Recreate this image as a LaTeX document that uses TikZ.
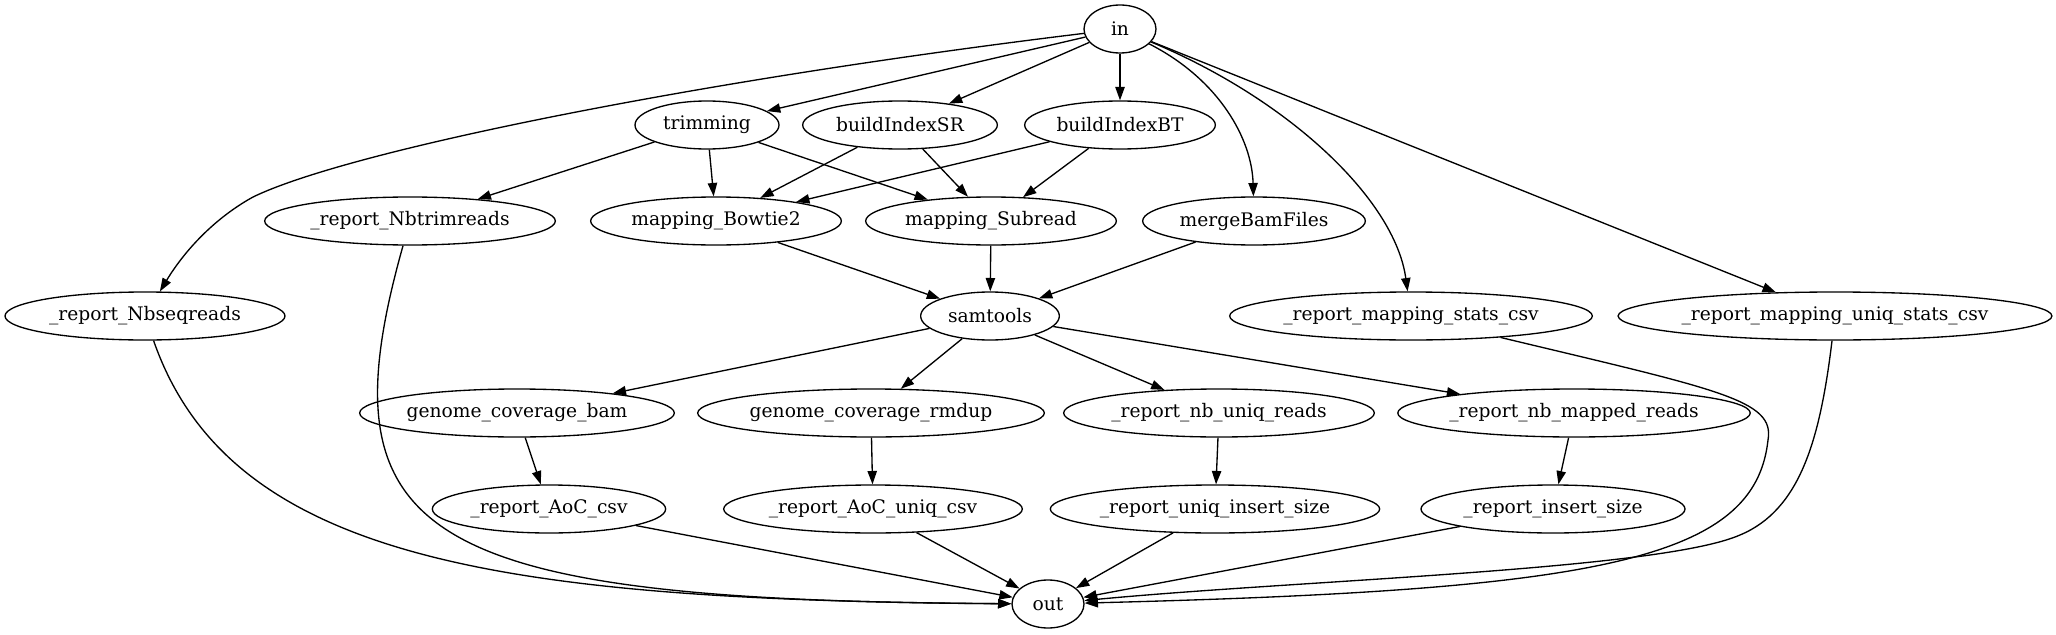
\documentclass[tikz,border=0pt]{standalone}
\usepackage{fontspec}
\setmainfont{DejaVu Serif}
\usepackage{tikz}
\usetikzlibrary{arrows.meta,shapes.geometric}
\tikzset{
	task/.style={draw, ellipse, line width=1pt, inner sep=0pt, minimum height=36pt, minimum width=#1, font=\fontsize{14}{16}\selectfont},
	dep/.style={line width=1pt, -{Triangle[length=10pt, width=7pt]}}
}

\begin{document}
\begin{tikzpicture}[x=0.75pt, y=-0.75pt]
			%%%%% START %%%%%
			\useasboundingbox (0, 0) rectangle (2056, 635);
			
			\node[task=54pt] (input) at (1120, 29) {in};
			
			\node[task=108pt] (trimming) at (707, 125) {trimming};
			\node[task=146pt] (idxSR) at (900, 125) {buildIndexSR};
			\node[task=143pt] (idxBT) at (1120, 125) {buildIndexBT};
			
			\node[task=218pt] (nbtrim) at (410, 221) {\_report\_Nbtrimreads};
			\node[task=188pt] (bowtie) at (716, 221) {mapping\_Bowtie2};
			\node[task=188pt] (subread) at (991, 221) {mapping\_Subread};
			\node[task=167pt] (merge) at (1254, 221) {mergeBamFiles};
			
			\node[task=210pt] (nbseq) at (145, 316) {\_report\_Nbseqreads};
			\node[task=104pt] (samtools) at (990, 316) {samtools};
			\node[task=272pt] (mapstats) at (1411, 316) {\_report\_mapping\_stats\_csv};
			\node[task=323pt] (mapuniq) at (1835, 316) {\_report\_mapping\_uniq\_stats\_csv};
			
			\node[task=236pt] (covbam) at (517, 413) {genome\_coverage\_bam};
			\node[task=260pt] (covrmdup) at (871, 413) {genome\_coverage\_rmdup};
			\node[task=233pt] (nbuniq) at (1219, 413) {\_report\_nb\_uniq\_reads};
			\node[task=263pt] (nbmapped) at (1574, 413) {\_report\_nb\_mapped\_reads};
			
			\node[task=175pt] (aoc) at (549, 509) {\_report\_AoC\_csv};
			\node[task=224pt] (aocuniq) at (873, 509) {\_report\_AoC\_uniq\_csv};
			\node[task=247pt] (uniqins) at (1215, 509) {\_report\_uniq\_insert\_size};
			\node[task=198pt] (ins) at (1553, 509) {\_report\_insert\_size};
			
			\node[task=54pt] (output) at (1048, 604) {out};
			
			% from in
			\draw[dep] (input) .. controls (700, 80) and (350, 150) .. (253, 197) .. controls (215, 218) and (185, 250) .. (nbseq);
			\draw[dep] (input) -- (trimming);
			\draw[dep] (input) -- (idxSR);
			\draw[dep] (input) -- (idxBT);
			\draw[dep] (input) .. controls (1220, 80) and (1252, 140) .. (merge);
			\draw[dep] (input) .. controls (1290, 100) and (1395, 200) .. (mapstats);
			\draw[dep] (input) -- (mapuniq);
			
			% mapping
			\draw[dep] (trimming) -- (nbtrim);
			\draw[dep] (trimming) -- (bowtie);
			\draw[dep] (trimming) -- (subread);
			\draw[dep] (idxSR) -- (bowtie);
			\draw[dep] (idxSR) -- (subread);
			\draw[dep] (idxBT) -- (bowtie);
			\draw[dep] (idxBT) -- (subread);
			
			\draw[dep] (bowtie) -- (samtools);
			\draw[dep] (subread) -- (samtools);
			\draw[dep] (merge) -- (samtools);
			
			% samtools and reports
			\draw[dep] (samtools) -- (covbam);
			\draw[dep] (samtools) -- (covrmdup);
			\draw[dep] (samtools) -- (nbuniq);
			\draw[dep] (samtools) -- (nbmapped);
			
			\draw[dep] (covbam) -- (aoc);
			\draw[dep] (covrmdup) -- (aocuniq);
			\draw[dep] (nbuniq) -- (uniqins);
			\draw[dep] (nbmapped) -- (ins);
			
			% into out
			\draw[dep] (nbseq) .. controls (230, 560) and (500, 600) .. (output);
			\draw[dep] (nbtrim) .. controls (320, 540) and (420, 600) .. (output);
			\draw[dep] (aoc) -- (output);
			\draw[dep] (aocuniq) -- (output);
			\draw[dep] (uniqins) -- (output);
			\draw[dep] (ins) -- (output);
			\draw[dep] (mapstats) .. controls (1720, 390) and (1775, 400) .. (1768, 440) .. controls (1755, 560) and (1600, 590) .. (output);
			\draw[dep] (mapuniq) .. controls (1820, 440) and (1800, 510) .. (1740, 535) .. controls (1660, 570) and (1300, 580) .. (output);
			
			%%%%% END %%%%%
		\end{tikzpicture}
\end{document}
